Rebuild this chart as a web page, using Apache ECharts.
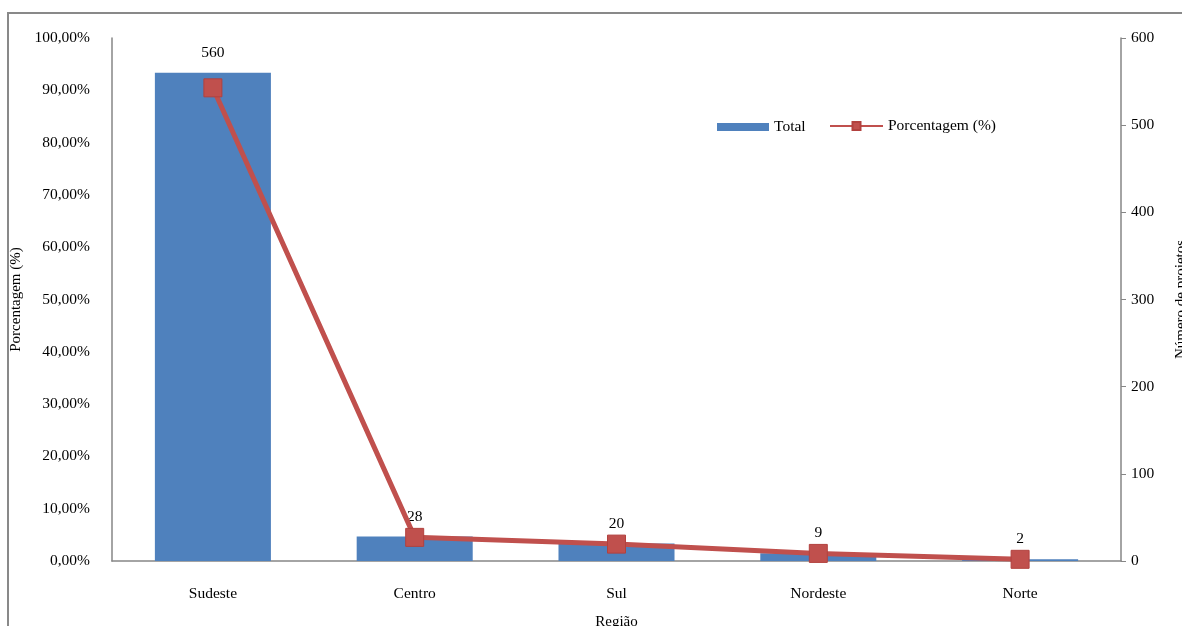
<!DOCTYPE html>
<html>
<head>
<meta charset="utf-8">
<script src="https://cdn.jsdelivr.net/npm/echarts@6/dist/echarts.min.js"></script>
<style>
html,body{margin:0;padding:0;background:#fff;}
#chart{width:1182px;height:626px;}
</style>
</head>
<body>
<div id="chart"></div>
<script>
var categories = ['Sudeste', 'Centro', 'Sul', 'Nordeste', 'Norte'];
var totals = [560, 28, 20, 9, 2];
var percentages = [90.47, 4.52, 3.23, 1.45, 0.32];
var font = "'Liberation Serif', 'Times New Roman', serif";

var chart = echarts.init(document.getElementById('chart'));
chart.setOption({
  backgroundColor: '#fff',
  animation: false,
  textStyle: { fontFamily: font, color: '#000' },
  graphic: [{
    type: 'rect',
    shape: { x: 8, y: 13, width: 1300, height: 800 },
    style: { fill: 'none', stroke: '#898989', lineWidth: 2 },
    silent: true, z: -1
  }],
  legend: [{
    data: ['Total'],
    left: 717, top: 119, padding: 0,
    itemWidth: 52, itemHeight: 8, itemGap: 10,
    textStyle: { fontFamily: font, fontSize: 15.5, color: '#000' },
    icon: 'rect'
  }, {
    data: ['Porcentagem (%)'],
    left: 829, top: 118, padding: 0,
    itemWidth: 53, itemHeight: 10,
    textStyle: { fontFamily: font, fontSize: 15.5, color: '#000' }
  }],
  grid: { left: 112, right: 61, top: 38, bottom: 65, containLabel: false, outerBoundsMode: 'none' },
  xAxis: {
    type: 'category',
    data: categories,
    name: 'Região',
    nameLocation: 'middle',
    nameGap: 54,
    nameTextStyle: { fontFamily: font, fontSize: 15, color: '#000' },
    axisLine: { lineStyle: { color: '#868686', width: 1.5 } },
    axisTick: { show: false },
    axisLabel: { fontFamily: font, fontSize: 15.5, color: '#000', margin: 25 }
  },
  yAxis: [{
    type: 'value',
    min: 0, max: 100, interval: 10,
    name: 'Porcentagem (%)',
    nameLocation: 'middle',
    nameGap: 81,
    nameTextStyle: { fontFamily: font, fontSize: 15, color: '#000' },
    axisLine: { show: true, lineStyle: { color: '#868686', width: 1.5 } },
    axisTick: { show: false },
    splitLine: { show: false },
    axisLabel: {
      fontFamily: font, fontSize: 15.5, color: '#000', margin: 22,
      formatter: function (v) { return v.toFixed(2).replace('.', ',') + '%'; }
    }
  }, {
    type: 'value',
    position: 'right',
    min: 0, max: 600, interval: 100,
    name: 'Número de projetos',
    nameLocation: 'middle',
    nameGap: 53,
    nameTextStyle: { fontFamily: font, fontSize: 15, color: '#000' },
    axisLine: { show: true, lineStyle: { color: '#868686', width: 1.5 } },
    axisTick: { show: true, length: 5, lineStyle: { color: '#868686' } },
    splitLine: { show: false },
    axisLabel: { fontFamily: font, fontSize: 15.5, color: '#000', margin: 10 }
  }],
  series: [{
    name: 'Total',
    type: 'bar',
    yAxisIndex: 1,
    data: totals,
    barWidth: '57.5%',
    itemStyle: { color: '#4F81BD' },
    label: {
      show: true, position: 'top', distance: 12,
      fontFamily: font, fontSize: 15.5, color: '#000'
    },
    z: 2
  }, {
    name: 'Porcentagem (%)',
    type: 'line',
    yAxisIndex: 0,
    data: percentages,
    symbol: 'rect',
    symbolSize: 18,
    lineStyle: { color: '#C0504D', width: 5 },
    itemStyle: { color: '#C0504D', borderColor: '#B2413E', borderWidth: 1 },
    z: 3
  }]
});
</script>
</body>
</html>
